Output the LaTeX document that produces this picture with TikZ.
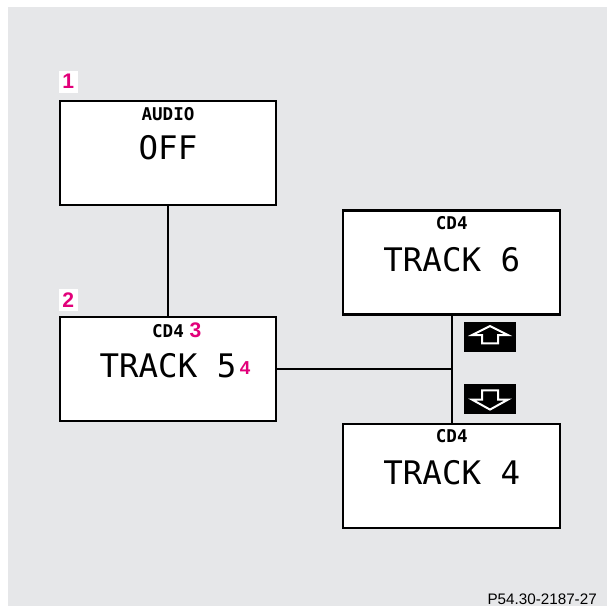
\documentclass[tikz,border=0pt]{standalone}
\usepackage{fontspec}
\setmainfont{Liberation Sans}
\newfontfamily\lcdfont{DejaVu Sans Mono}
\usetikzlibrary{positioning, calc}
\definecolor{panelgray}{RGB}{230,231,233}
\definecolor{tagpink}{RGB}{226,0,122}
\tikzset{
  screen/.style  = {draw, rectangle, fill=white, line width=1.8pt,
                    minimum width=6.5cm, minimum height=3.12cm, inner sep=0pt},
  head/.style    = {font=\lcdfont\bfseries\fontsize{15}{15}\selectfont, inner sep=0pt},
  big/.style     = {font=\lcdfont\fontsize{27.7}{28}\selectfont, inner sep=0pt},
  callout/.style = {fill=white, text=tagpink, inner sep=0pt,
                    font=\bfseries\fontsize{18}{18}\selectfont,
                    minimum width=0.57cm, minimum height=0.66cm},
  key/.style     = {fill=black, inner sep=0pt,
                    minimum width=1.56cm, minimum height=0.92cm},
  glyph/.style   = {draw=white, line width=1.7pt, line join=miter},
  wire/.style    = {line width=1.6pt},
  note/.style    = {font=\fontsize{13}{13}\selectfont, inner sep=0pt},
  node distance = 3.3cm and 1.95cm
}

\begin{document}
\begin{tikzpicture}

  % ── Panel ─────────────────────────────────────────────────────────────────
  \useasboundingbox (0,0) rectangle (18.21,-18.18);
  \fill[panelgray] (0.24,-0.21) rectangle (18.21,-18.18);

  % ── Display screens ───────────────────────────────────────────────────────
  \node[screen] (AudioOff) at (5.04,-4.59) {};
  \node[screen, below=3.3cm of AudioOff] (Track5) {};
  \node[screen, right=1.95cm of Track5, yshift=3.2cm] (Track6) {};
  \node[screen, below=3.21cm of Track6] (Track4) {};

  % ── Screen texts ──────────────────────────────────────────────────────────
  \node[head] (AudioHead) at ($(AudioOff.north)+(0,-0.41)$) {AUDIO};
  \node[big]  (AudioMain) at ($(AudioOff.north)+(0,-1.44)$) {OFF};

  \node[head] (Track5Head) at ($(Track5.north)+(0,-0.43)$)
    {CD4\rlap{\hspace{5pt}\textcolor{tagpink}{\normalfont\bfseries\fontsize{18}{18}\selectfont 3}}};
  \node[big]  (Track5Main) at ($(Track5.north)+(0,-1.5)$)
    {TRACK 5\rlap{\hspace{3pt}\raisebox{3pt}{\textcolor{tagpink}{\normalfont\bfseries\fontsize{16}{16}\selectfont 4}}}};

  \node[head] (Track6Head) at ($(Track6.north)+(0,-0.41)$) {CD4};
  \node[big]  (Track6Main) at ($(Track6.north)+(0,-1.5)$) {TRACK 6};

  \node[head] (Track4Head) at ($(Track4.north)+(0,-0.41)$) {CD4};
  \node[big]  (Track4Main) at ($(Track4.north)+(0,-1.5)$) {TRACK 4};

  % ── Callout tags ──────────────────────────────────────────────────────────
  \node[callout, above right=0.21cm and 0cm of AudioOff.north west] (Tag1) {1};
  \node[callout, above right=0.15cm and 0cm of Track5.north west]   (Tag2) {2};

  % ── Connections ───────────────────────────────────────────────────────────
  \draw[wire] (AudioOff.south) -- (Track5.north);
  \draw[wire] (Track6.south)   -- (Track4.north);
  \draw[wire] (Track5.east)    -- (Track5.east -| Track6.south);

  % ── Up / down keys ────────────────────────────────────────────────────────
  \node[key, below right=0.18cm and 0.36cm of Track6.south] (UpKey) {};
  \node[key, above right=0.24cm and 0.36cm of Track4.north] (DownKey) {};

  \draw[glyph] ($(UpKey.center)+(0,0.33)$) -- ++(0.54,-0.27) -- ++(-0.3,0)
    -- ++(0,-0.25) -- ++(-0.48,0) -- ++(0,0.25) -- ++(-0.3,0) -- cycle;
  \draw[glyph] ($(DownKey.center)+(0,-0.32)$) -- ++(0.54,0.3) -- ++(-0.3,0)
    -- ++(0,0.28) -- ++(-0.48,0) -- ++(0,-0.28) -- ++(-0.3,0) -- cycle;

  % ── Part number ───────────────────────────────────────────────────────────
  \node[note, anchor=base east] (PartNo) at (17.91,-18.12) {P54.30-2187-27};

\end{tikzpicture}
\end{document}
